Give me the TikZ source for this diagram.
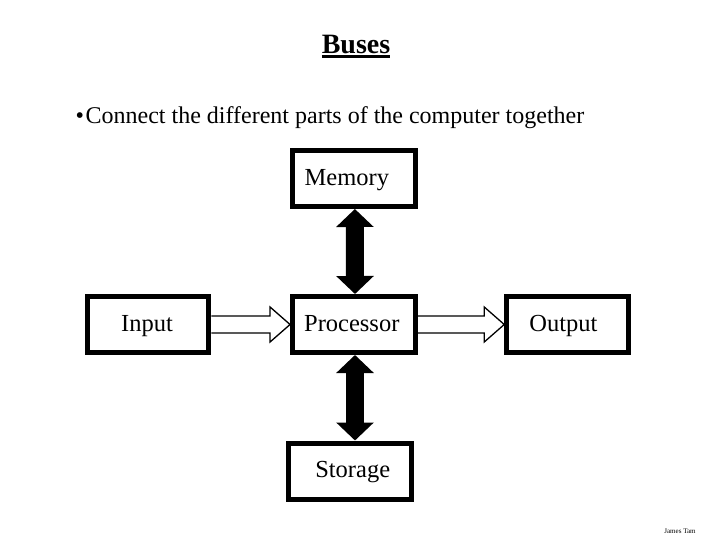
\documentclass[tikz,border=0pt]{standalone}
\usepackage{fontspec}
\setmainfont{Liberation Serif}
\usetikzlibrary{arrows.meta,calc}

\tikzset{
    part/.style={draw, line width=5pt, inner sep=0pt, minimum height=56pt, text height=13.5pt, text depth=0pt, font=\fontsize{24.5}{28}\selectfont},
    bus/.style={line width=18pt, {Triangle[length=18pt,width=36.6pt]}-{Triangle[length=18pt,width=36.6pt]}},
    flow/.style={draw, line width=1.3pt, line join=miter, to path={
        ($(\tikztostart)+(0,-8.5)$) -- ($(\tikztotarget)+(-20,-8.5)$) -- ($(\tikztotarget)+(-20,-17.5)$)
        -- (\tikztotarget) -- ($(\tikztotarget)+(-20,17.5)$) -- ($(\tikztotarget)+(-20,8.5)$) -- ($(\tikztostart)+(0,8.5)$)}},
}

\begin{document}
\begin{tikzpicture}[x=1pt, y=-1pt]
    \def\heading#1{\vtop{\hbox{#1}\kern1.8pt\hrule height 3pt}}

    \useasboundingbox (0, 0) rectangle (720, 540);

    \node [anchor=base, inner sep=0pt, font=\fontsize{28}{32}\selectfont\bfseries] (title) at (356, 53.2) {\heading{Buses}};
    \node [anchor=base west, inner sep=0pt, font=\fontsize{24}{28}\selectfont] (point) at (75.5, 123.6)
        {\textbullet\kern1.5pt Connect the different parts of the computer together};

    \node [part, minimum width=122.5pt] (memory) at (353.9, 178.5) {\kern-14pt Memory};
    \node [part, minimum width=122.5pt] (processor) at (353.8, 324.5) {\kern-4pt Processor};
    \node [part, minimum width=121.5pt] (input) at (148, 324.5) {\kern-2pt Input};
    \node [part, minimum width=121.5pt] (output) at (567.5, 324.5) {\kern-8pt Output};
    \node [part, minimum width=123pt] (storage) at (350.2, 471) {\kern5pt Storage};

    \draw [bus] ([xshift=1pt]memory.south) -- ([xshift=1.2pt]processor.north);
    \draw [bus] ([xshift=1.2pt]processor.south) -- ([xshift=4.8pt]storage.north);

    \draw [flow] (input.east) to (processor.west);
    \draw [flow] (processor.east) to (output.west);

    \node [font=\fontsize{7}{8}\selectfont] (author) at (680, 531) {James Tam};
\end{tikzpicture}
\end{document}
